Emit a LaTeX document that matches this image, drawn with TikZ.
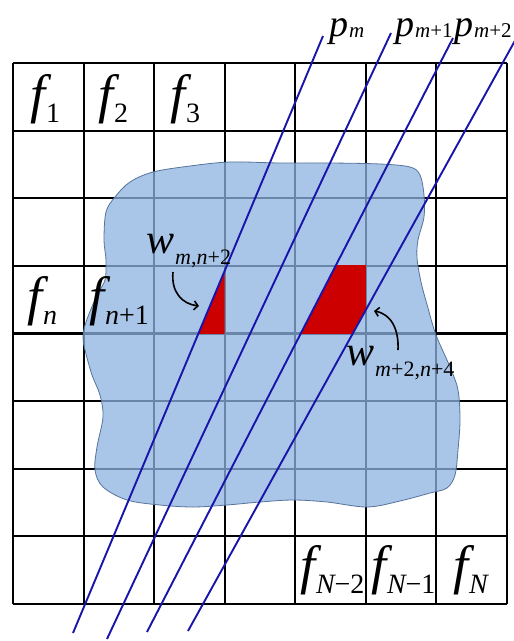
\documentclass[tikz,border=0pt]{standalone}
\usepackage{fontspec}
\setmainfont{Liberation Serif}
\usetikzlibrary{arrows.meta}
\definecolor{blobfill}{RGB}{141,180,226}
\definecolor{blobedge}{RGB}{85,115,155}
\definecolor{rayblue}{RGB}{25,20,170}
\definecolor{cellred}{RGB}{205,0,0}
% #1 main size, #2 letter, #3 sub size, #4 drop, #5 subscript
\newcommand\mylab[5]{{\fontsize{#1}{#1}\selectfont\itshape #2}\kern1pt\raisebox{-#4}{\fontsize{#3}{#3}\selectfont #5}}
\newcommand\flab[1]{\mylab{54}{f}{28}{10pt}{#1}}
\newcommand\plab[1]{\mylab{38}{p}{21}{1pt}{#1}}
\newcommand\wlab[1]{\mylab{42}{w}{22}{11pt}{#1}}
\begin{document}
\begin{tikzpicture}[x=1pt,y=-1pt,
  gridline/.style={line width=2.1pt,black},
  ray/.style={line width=1.9pt,rayblue},
  lab/.style={inner sep=0pt,anchor=base west,text=black},
  curvarrow/.style={line width=1.6pt,black,-{Straight Barb[length=4pt,width=9pt]}}]
\useasboundingbox (0,0) rectangle (514,641);
\fill[white] (0,0) rectangle (514,641);
% grid
\foreach \i in {0,...,7}
  \draw[gridline] ({13+\i*70.571},63) -- ({13+\i*70.571},604);
\foreach \j in {0,...,8}
  \draw[gridline] (13,{63+\j*67.625}) -- (507,{63+\j*67.625});
% blob
\def\blobpath{plot[smooth cycle,tension=0.55] coordinates {
 (104,240) (106,212) (115,197) (130,182) (153,172) (190,166) (230,162)
 (280,163) (330,163) (380,164) (410,167) (420,175) (424,195) (424,217)
 (418,240) (417,258) (421,282) (428,308) (436,335) (450,367) (458,390)
 (460,420) (458,450) (455,475) (447,488) (430,493) (400,501) (367,507)
 (327,502) (293,500) (260,502) (227,505) (193,507) (160,505) (127,500)
 (103,487) (95,470) (97,447) (103,417) (100,395) (92,375) (85,350)
 (83,337) (86,322) (97,295) (105,280) (106,260)}}
\fill[blobfill,fill opacity=0.75] \blobpath;
\draw[blobedge,line width=0.8pt] \blobpath;
% ray end points
\coordinate (p1a) at (323,36);  \coordinate (p1b) at (73,633);
\coordinate (p2a) at (391,33);  \coordinate (p2b) at (107,639);
\coordinate (p3a) at (453,38);  \coordinate (p3b) at (147,632);
\coordinate (p4a) at (517,37);  \coordinate (p4b) at (188,631);
% red weights
\begin{scope}
  \clip (154.14,265.88) rectangle (224.71,333.5);
  \fill[cellred] (p1a) -- (p1b) -- (p2b) -- (p2a) -- cycle;
\end{scope}
\begin{scope}
  \clip (295.29,265.88) rectangle (365.86,333.5);
  \fill[cellred] (p3a) -- (p3b) -- (p4b) -- (p4a) -- cycle;
\end{scope}
% rays
\draw[ray] (p1a) -- (p1b);
\draw[ray] (p2a) -- (p2b);
\draw[ray] (p3a) -- (p3b);
\draw[ray] (p4a) -- (p4b);
% labels
\node[lab] (f1) at (30,112) {\flab{1}};
\node[lab] (f2) at (98,112) {\flab{2}};
\node[lab] (f3) at (170,112) {\flab{3}};
\node[lab] (fn) at (27,314) {\flab{\textit{n}}};
\node[lab] (fn1) at (89,314) {\flab{\textit{n}+1}};
\node[lab] (fN2) at (300,583) {\flab{\textit{N}\kern-1.5pt−2}};
\node[lab] (fN1) at (371,583) {\flab{\textit{N}\kern-1.5pt−1}};
\node[lab] (fN) at (453,583) {\flab{\textit{N}}};
\node[lab] (pm) at (329,36) {\plab{\textit{m}}};
\node[lab] (pm1) at (395,36) {\plab{\textit{m}+1}};
\node[lab] (pm2) at (454,36) {\plab{\textit{m}+2}};
\node[lab] (w1) at (146,253) {\wlab{\textit{m},\textit{n}+2}};
\node[lab] (w2) at (346,365) {\wlab{\textit{m}+2,\textit{n}+4}};
% arrows
\coordinate (a1s) at (173,272); \coordinate (a1e) at (199,306);
\coordinate (a2s) at (398,350); \coordinate (a2e) at (374,311);
\draw[curvarrow] (a1s) .. controls (171,292) and (182,304) .. (a1e);
\draw[curvarrow] (a2s) .. controls (399,329) and (391,314) .. (a2e);
\end{tikzpicture}
\end{document}
